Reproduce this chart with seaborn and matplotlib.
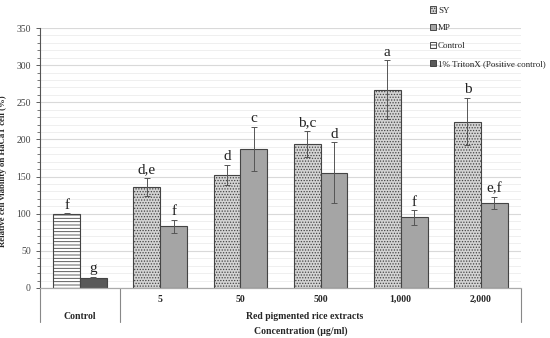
import numpy as np
import pandas as pd
import matplotlib.pyplot as plt
import seaborn as sns
from matplotlib.patches import Patch
from matplotlib.transforms import blended_transform_factory

# data
groups = ["Control", "5", "50", "500", "1,000", "2,000"]
left_series = ["Control", "SY", "SY", "SY", "SY", "SY"]
right_series = ["1% TritonX (Positive control)", "MP", "MP", "MP", "MP", "MP"]
left_values = [100, 136, 152, 194, 267, 224]
right_values = [14, 83, 187, 155, 95, 115]
left_err = [1, 12, 14, 18, 40, 32]
right_err = [1, 9, 30, 41, 10, 8]
left_letters = ["f", "d,e", "d", "b,c", "a", "b"]
right_letters = ["g", "f", "c", "d", "f", "e,f"]

styles = {
    "SY": dict(facecolor="#d4d4d4", hatch="......"),
    "MP": dict(facecolor="#a5a5a5", hatch=""),
    "Control": dict(facecolor="white", hatch="-----"),
    "1% TritonX (Positive control)": dict(facecolor="#595959", hatch=""),
}

df = pd.DataFrame({
    "group": groups * 2,
    "slot": ["L"] * 6 + ["R"] * 6,
    "series": left_series + right_series,
    "value": left_values + right_values,
    "err": left_err + right_err,
    "letter": left_letters + right_letters,
})

sns.set_style("white")
plt.rcParams["font.family"] = ["Liberation Serif", "DejaVu Serif"]
plt.rcParams["hatch.linewidth"] = 0.6
plt.rcParams["hatch.color"] = "#333333"

fig = plt.figure(figsize=(5.5, 3.38), dpi=100)
ax = fig.add_axes([0.0727, 0.148, 0.8745, 0.769])

sns.barplot(data=df, x="group", y="value", hue="slot", order=groups,
            hue_order=["L", "R"], width=0.67, gap=0, legend=False,
            palette=["#cccccc", "#aaaaaa"], ax=ax, errorbar=None)

# seaborn orders patches by hue level then category
bars = [p for p in ax.patches if p.get_height() > 0]
for patch, (_, row) in zip(bars, df.iterrows()):
    st = styles[row["series"]]
    patch.set_facecolor(st["facecolor"])
    patch.set_hatch(st["hatch"])
    patch.set_edgecolor("#444444")
    patch.set_linewidth(0.8)
    cx = patch.get_x() + patch.get_width() / 2
    ax.errorbar(cx, row["value"], yerr=row["err"], color="#555555",
                elinewidth=0.7, capsize=2, capthick=0.7, zorder=5)
    ax.annotate(row["letter"], (cx, row["value"] + row["err"]),
                xytext=(0, 1), textcoords="offset points",
                ha="center", va="bottom", fontsize=11, color="#222222")

ax.set_xlim(-0.5, 5.5)
ax.set_ylim(0, 350)
ax.set_yticks(np.arange(0, 351, 50))
ax.set_yticks(np.arange(0, 351, 10), minor=True)
ax.grid(axis="y", which="major", color="#d9d9d9", linewidth=0.8)
ax.grid(axis="y", which="minor", color="#ececec", linewidth=0.6)
ax.set_axisbelow(True)
ax.tick_params(axis="y", which="major", labelsize=7, length=3, width=0.6,
               left=True, colors="#444444")
ax.tick_params(axis="y", which="minor", length=2, width=0.5, left=True,
               color="#444444")
ax.tick_params(axis="x", bottom=False, labelbottom=False)
for s in ["top", "right"]:
    ax.spines[s].set_visible(False)
ax.spines["left"].set_color("#555555")
ax.spines["bottom"].set_color("#aaaaaa")
ax.spines["left"].set_linewidth(0.8)
ax.spines["bottom"].set_linewidth(0.8)

ax.set_xlabel("")
ax.set_ylabel("Relative cell viability on HaCaT cell (%)", fontsize=6.3,
              fontweight="bold")
ax.yaxis.set_label_coords(-0.068, 0.45)

# two-level category axis
tr = blended_transform_factory(ax.transData, ax.transAxes)
for i, g in enumerate(groups[1:], start=1):
    ax.text(i, -0.045, g, transform=tr, ha="center", va="center",
            fontsize=7, fontweight="bold")
ax.text(0, -0.11, "Control", transform=tr, ha="center", va="center",
        fontsize=7, fontweight="bold")
ax.text(2.8, -0.11, "Red pigmented rice extracts", transform=tr,
        ha="center", va="center", fontsize=7, fontweight="bold")
ax.text(2.75, -0.165, "Concentration (µg/ml)", transform=tr,
        ha="center", va="center", fontsize=7, fontweight="bold")
for xs in [-0.5, 0.5, 5.5]:
    ax.plot([xs, xs], [0, -0.13], transform=tr, color="#888888",
            linewidth=0.8, clip_on=False)
ax.plot([-0.5, 5.5], [0, 0], transform=tr, color="#aaaaaa",
        linewidth=0.8, clip_on=False)

handles = [Patch(facecolor=styles[k]["facecolor"], hatch=styles[k]["hatch"],
                 edgecolor="#333333", linewidth=0.6, label=k)
           for k in ["SY", "MP", "Control", "1% TritonX (Positive control)"]]
fig.legend(handles=handles, loc="upper left", bbox_to_anchor=(0.77, 1.0),
           frameon=False, fontsize=6.5, handlelength=0.7, handleheight=0.7,
           handletextpad=0.2, labelspacing=1.05, borderaxespad=0.3)

fig.savefig("out.png", dpi=100)
